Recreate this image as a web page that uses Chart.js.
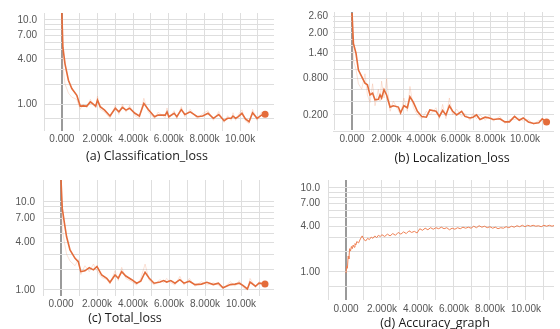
<!DOCTYPE html>
<html><head><meta charset="utf-8">
<script src="https://cdn.jsdelivr.net/npm/chart.js@4/dist/chart.umd.min.js"></script>
<style>
html,body{margin:0;padding:0;background:#fff;width:560px;height:329px;overflow:hidden;position:relative;}
canvas{position:absolute;}
.cap{position:absolute;font-family:"Open Sans",sans-serif;font-size:12.5px;color:#1a1a1a;transform:translate(-50%,-50%);white-space:nowrap;}
</style></head><body>
<canvas id="ca" width="280" height="150" style="left:0;top:0"></canvas>
<canvas id="cb" width="280" height="150" style="left:280px;top:0"></canvas>
<canvas id="cc" width="280" height="150" style="left:0;top:165px"></canvas>
<canvas id="cd" width="280" height="150" style="left:280px;top:165px"></canvas>
<div class="cap" style="left:147px;top:155px">(a) Classification_loss</div>
<div class="cap" style="left:452px;top:157px">(b) Localization_loss</div>
<div class="cap" style="left:125px;top:317px">(c) Total_loss</div>
<div class="cap" style="left:435px;top:322px">(d) Accuracy_graph</div>
<script>
// ---- data (x in thousands of steps) ----
const xGrid = [-1,0,1,2,3,4,5,6,7,8,9,10,11];
const xTickVals = [0,2,4,6,8,10];
const xTickLabels = ["0.000","2.000k","4.000k","6.000k","8.000k","10.00k"];

const aX = [0,0.06,0.18,0.37,0.56,0.84,1.03,1.2,1.4,1.6,1.9,2.0,2.15,2.4,2.7,3.0,3.2,3.4,3.6,3.8,4.1,4.35,4.6,4.85,5.2,5.4,5.8,5.9,6.0,6.3,6.45,6.7,6.9,7.2,7.6,7.9,8.2,8.5,8.8,9.1,9.3,9.5,9.6,9.75,9.9,10.1,10.3,10.5,10.7,10.95,11.2,11.4];
const aSmooth = [11.7,5.3,3.5,2.24,1.74,1.39,0.92,0.93,0.92,1.09,0.92,1.17,0.90,0.77,0.57,0.84,0.71,0.87,0.77,0.84,0.66,0.57,1.03,0.79,0.55,0.6,0.6,0.71,0.55,0.66,0.55,0.79,0.62,0.71,0.55,0.57,0.66,0.50,0.62,0.43,0.5,0.5,0.57,0.50,0.55,0.66,0.48,0.40,0.68,0.5,0.6,0.63];
const aRaw = [11.7,3.2,2.0,1.5,1.3,1.2,0.8,1.0,0.85,1.2,0.85,1.35,0.8,0.7,0.5,0.95,0.62,1.0,0.7,0.95,0.58,0.5,1.25,0.7,0.48,0.7,0.52,0.85,0.48,0.75,0.48,0.9,0.55,0.8,0.48,0.65,0.75,0.44,0.72,0.38,0.58,0.44,0.68,0.44,0.62,0.78,0.42,0.35,0.8,0.44,0.7,0.6];
const aGrid = [0.5,1,2,3,4,5,6,7,8,9,10];
const aLabVals = [10,7,4,1];
const aLabTexts = ["10.0","7.00","4.00","1.00"];

const bX = [0,0.08,0.23,0.37,0.56,0.75,0.89,1.04,1.19,1.33,1.52,1.62,1.71,1.85,2.0,2.2,2.39,2.68,2.81,3.0,3.2,3.35,3.55,3.78,4.03,4.3,4.5,4.86,5.05,5.24,5.43,5.63,5.82,6.05,6.34,6.53,6.82,7.0,7.2,7.4,7.7,7.94,8.17,8.55,8.84,9.1,9.4,9.67,9.9,10.2,10.5,10.8,11.0,11.25];
const bSmooth = [2.75,1.67,1.39,0.98,0.84,0.71,0.68,0.50,0.53,0.42,0.43,0.50,0.45,0.59,0.50,0.31,0.33,0.31,0.23,0.33,0.30,0.47,0.38,0.25,0.18,0.17,0.27,0.25,0.18,0.26,0.20,0.33,0.25,0.20,0.25,0.18,0.16,0.17,0.20,0.14,0.17,0.16,0.14,0.15,0.11,0.11,0.18,0.13,0.16,0.11,0.09,0.10,0.15,0.11];
const bRaw = [2.75,1.2,1.0,0.7,0.6,0.9,0.5,0.38,0.7,0.33,0.6,0.4,0.75,0.45,0.8,0.25,0.4,0.26,0.2,0.45,0.25,0.65,0.3,0.2,0.15,0.25,0.2,0.3,0.15,0.35,0.15,0.45,0.2,0.28,0.18,0.22,0.13,0.22,0.15,0.2,0.13,0.2,0.12,0.18,0.09,0.14,0.14,0.16,0.12,0.14,0.08,0.13,0.12,0.11];
const bGrid = [0,0.2,0.4,0.6,0.8,1.0,1.2,1.4,1.6,1.8,2.0,2.2,2.4,2.6];
const bLabVals = [2.6,2.0,1.4,0.8,0.2];
const bLabTexts = ["2.60","2.00","1.40","0.800","0.200"];

const cX = [0,0.07,0.19,0.31,0.5,0.78,0.96,1.1,1.33,1.57,1.8,2.0,2.26,2.54,2.72,3.0,3.18,3.37,3.6,3.93,4.2,4.43,4.67,4.9,5.17,5.5,5.7,5.87,6.1,6.33,6.6,6.83,7.13,7.44,7.8,8.1,8.46,8.74,9.0,9.4,9.67,9.9,10.1,10.35,10.5,10.8,11.0,11.33];
const cSmooth = [15.8,8.7,6.3,4.6,3.34,2.69,2.46,1.85,1.9,2.08,1.95,2.15,1.67,1.51,1.32,1.67,1.51,1.85,1.62,1.44,1.28,1.37,1.82,1.51,1.28,1.33,1.40,1.33,1.40,1.28,1.44,1.28,1.37,1.22,1.24,1.32,1.22,1.28,1.09,1.22,1.24,1.28,1.19,1.04,1.33,1.15,1.28,1.24];
const cRaw = [15.8,5.5,4.0,3.0,2.5,2.2,2.6,1.7,2.2,1.85,2.3,1.9,1.55,1.45,1.25,1.9,1.4,2.1,1.5,1.35,1.2,1.5,2.3,1.4,1.2,1.45,1.3,1.5,1.3,1.2,1.6,1.2,1.5,1.15,1.35,1.2,1.3,1.2,1.05,1.35,1.15,1.4,1.1,1.0,1.5,1.1,1.35,1.2];
const cGrid = [1,2,3,4,5,6,7,8,9,10];
const cLabVals = [10,7,4,1];
const cLabTexts = ["10.0","7.00","4.00","1.00"];

const dX = [0,0.04,0.08,0.12,0.16,0.2,0.25,0.3,0.35,0.4,0.45,0.5,0.55,0.6,0.7,0.8,0.9,1.0,1.1,1.2,1.3,1.4,1.5,1.6,1.7,1.8,1.9,2.0,2.15,2.3,2.45,2.6,2.75,2.9,3.05,3.2,3.35,3.5,3.65,3.8,3.95,4.1,4.25,4.4,4.55,4.7,4.85,5.0,5.15,5.3,5.45,5.6,5.75,5.9,6.05,6.2,6.35,6.5,6.65,6.8,6.95,7.1,7.25,7.4,7.55,7.7,7.85,8.0,8.15,8.3,8.45,8.6,8.75,8.9,9.05,9.2,9.35,9.5,9.65,9.8,9.95,10.1,10.25,10.4,10.55,10.7,10.85,11.0,11.15,11.3,11.45,11.6];
const dVal = [0.95,1.25,1.15,1.75,1.6,2.2,2.05,2.35,2.2,2.45,2.3,2.55,2.45,2.7,2.6,2.9,3.15,2.85,2.75,2.95,2.85,3.05,2.95,3.15,3.0,3.2,3.1,3.25,3.1,3.3,3.15,3.35,3.2,3.45,3.3,3.5,3.35,3.6,3.45,3.55,3.4,3.8,3.65,3.85,3.7,3.9,3.75,3.9,3.8,3.95,3.8,3.9,3.7,3.85,3.75,3.9,3.8,3.95,3.85,3.95,3.85,4.05,3.9,4.1,3.95,4.05,3.9,4.0,3.85,3.95,3.8,3.9,3.85,4.0,3.9,4.05,3.95,4.1,4.0,4.15,4.0,4.15,4.05,4.15,4.05,4.1,4.0,4.15,4.05,4.15,4.05,4.15];
const dGrid = [0.5,1,2,3,4,5,6,7,8,9,10];
const dLabVals = [10,7,4,1];
const dLabTexts = ["10.0","7.00","4.00","1.00"];

// ---- custom log(1+v) scale, as used by the original plots ----
class Log1pScale extends Chart.LinearScale {
  static id = 'log1p';
  static defaults = {};
  buildTicks() { return (this.options.gridValues || []).map(v => ({value: v})); }
  _f(v) { return Math.log10(1 + v); }
  getPixelForValue(v) {
    if (v === null || v === undefined) return NaN;
    const a = this._f(this.min), b = this._f(this.max);
    return this.getPixelForDecimal((this._f(v) - a) / (b - a));
  }
  getValueForPixel(p) {
    const a = this._f(this.min), b = this._f(this.max);
    return Math.pow(10, a + this.getDecimalForPixel(p) * (b - a)) - 1;
  }
}
Chart.register(Log1pScale);

const pts = (xs, ys) => xs.map((x, i) => ({x: x, y: ys[i]}));
const MAIN = 'rgb(228,108,58)';
const RAW = 'rgba(240,150,110,0.28)';
const tickFont = {family: '"Liberation Sans", Arial, sans-serif', size: 10};

function make(id, g, datasets, yGrid, labVals, labTexts) {
  new Chart(document.getElementById(id), {
    type: 'line',
    data: {datasets: datasets},
    options: {
      responsive: false, animation: false, devicePixelRatio: 1,
      layout: {padding: {left: 0, right: 280 - g.right, top: g.top, bottom: 0}},
      plugins: {legend: {display: false}, tooltip: {enabled: false}},
      elements: {point: {radius: 0}, line: {tension: 0}},
      scales: {
        x: {
          type: 'linear', min: g.xmin, max: g.xmax,
          afterBuildTicks: s => { s.ticks = xGrid.map(v => ({value: v})); },
          afterFit: s => { s.height = 150 - g.bottom; },
          border: {display: false},
          grid: {drawTicks: false,
                 color: c => (c.tick && c.tick.value === 0) ? '#9a9a9a' : '#dedede',
                 lineWidth: c => (c.tick && c.tick.value === 0) ? 2 : 1},
          ticks: {autoSkip: false, maxRotation: 0, padding: g.xpad, color: '#555', font: tickFont,
                  callback: v => { const i = xTickVals.indexOf(v); return i >= 0 ? xTickLabels[i] : ''; }}
        },
        y: {
          type: 'log1p', min: g.ymin, max: g.ymax, gridValues: yGrid,
          afterFit: s => { s.width = g.left; },
          border: {display: false},
          grid: {drawTicks: false, color: '#dedede', lineWidth: 1},
          ticks: {autoSkip: false, padding: g.ypad, color: '#555', font: tickFont,
                  callback: v => { const i = labVals.indexOf(v); return i >= 0 ? labTexts[i] : ''; }}
        }
      }
    }
  });
}

function lossSets(xs, smooth, raw) {
  const n = xs.length;
  return [
    {data: pts(xs, smooth), borderColor: MAIN, backgroundColor: MAIN, borderWidth: 1.6,
     pointRadius: xs.map((_, i) => i === n - 1 ? 3.5 : 0), pointBorderWidth: 0},
    {data: pts(xs, raw), borderColor: RAW, borderWidth: 1}
  ];
}

make('ca', {left: 44, right: 274, top: 12, bottom: 131, xmin: -1, xmax: 11.9, ymin: 0.16, ymax: 11.65, xpad: 2, ypad: 7},
     lossSets(aX, aSmooth, aRaw), aGrid, aLabVals, aLabTexts);
make('cb', {left: 53, right: 274, top: 12, bottom: 130, xmin: -1.1, xmax: 11.68, ymin: 0.014, ymax: 2.79, xpad: 3, ypad: 5},
     lossSets(bX, bSmooth, bRaw), bGrid, bLabVals, bLabTexts);
make('cc', {left: 43, right: 274, top: 15, bottom: 131, xmin: -1, xmax: 11.83, ymin: 0.78, ymax: 15.8, xpad: 2, ypad: 8},
     lossSets(cX, cSmooth, cRaw), cGrid, cLabVals, cLabTexts);
make('cd', {left: 48, right: 274, top: 15, bottom: 135, xmin: -1, xmax: 11.56, ymin: 0.13, ymax: 11.9, xpad: 3, ypad: 8},
     [{data: pts(dX, dVal), borderColor: 'rgb(238,128,84)', borderWidth: 1}], dGrid, dLabVals, dLabTexts);
</script>
</body></html>
